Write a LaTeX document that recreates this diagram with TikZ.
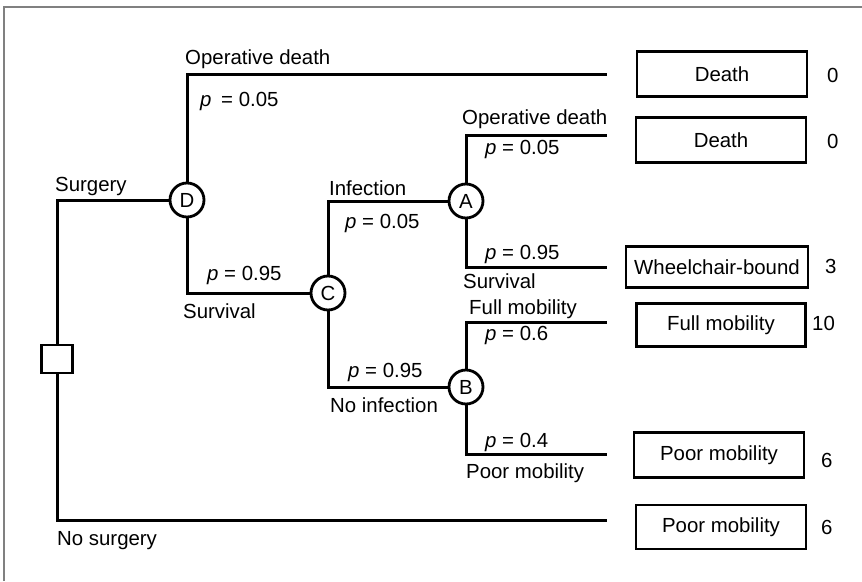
\documentclass[tikz,border=0pt]{standalone}
\usepackage{fontspec}
\setmainfont{Liberation Sans}
\usepackage{tikz}
\usetikzlibrary{positioning}

\tikzset{
	tree/.style={line width=3pt},
	chance/.style={circle, draw, line width=2.8pt, minimum size=34pt, inner sep=0pt},
	decision/.style={rectangle, draw, line width=2.6pt, minimum width=31pt, minimum height=28pt, inner sep=0pt},
	outcome/.style={rectangle, draw, line width=2.6pt, inner sep=0pt},
	lbl/.style={anchor=base west, inner sep=0pt}
}

\begin{document}
\begin{tikzpicture}[x=1pt,y=-1pt,font=\fontsize{20.4}{24}\selectfont]
	\useasboundingbox (0,0) rectangle (862,581);
	\draw [gray, line width=1.2pt] (4,581) -- (4,7) -- (862,7);
	\node [decision] (dec) at (57,359) {};
	\node [chance] (D) at (187,200) {D};
	\node [chance] (C) at (328,293) {C};
	\node [chance] (A) at (466,201) {A};
	\node [chance] (B) at (466,387) {B};
	\def\lineend{607}
	\foreach \n/\y in {eTop/74, eA1/135, eA2/267, eB1/322, eB2/454, eNo/520}
	{
		\coordinate (\n) at (\lineend,\y);
	}
	\draw [tree] (dec.north) |- (D.west);
	\draw [tree] (dec.south) |- (eNo);
	\draw [tree] (D.north) |- (eTop);
	\draw [tree] (D.south) |- (C.west);
	\draw [tree] (C.north) |- (A.west);
	\draw [tree] (C.south) |- (B.west);
	\draw [tree] (A.north) |- (eA1);
	\draw [tree] (A.south) |- (eA2);
	\draw [tree] (B.north) |- (eB1);
	\draw [tree] (B.south) |- (eB2);
	\foreach \n/\x/\y/\txt in
	{
		opD/185/64/{Operative death},
		pD1/200/106/{\textit{p}\hspace{4pt} = 0.05},
		surg/55/191/{Surgery},
		pD2/207/280/{\textit{p} = 0.95},
		survD/183/318/{Survival},
		inf/329/195/{Infection},
		pC1/345/228/{\textit{p} = 0.05},
		pC2/348/377/{\textit{p} = 0.95},
		noinf/330/412/{No infection},
		opA/462/124/{Operative death},
		pA1/485/154/{\textit{p} = 0.05},
		pA2/485/259/{\textit{p} = 0.95},
		survA/463/288/{Survival},
		fullB/469/314/{Full mobility},
		pB1/485/340/{\textit{p} = 0.6},
		pB2/485/447/{\textit{p} = 0.4},
		poorB/466/478/{Poor mobility},
		nosurg/57/545/{No surgery}
	}
	{
		\node [lbl] (\n) at (\x,\y) {\txt};
	}
	\foreach \n/\x/\y/\w/\h/\txt/\vx/\vy/\val in
	{
		1/722/74/170/45/Death/827/75/0,
		2/721/140/170/45/Death/827/141/0,
		3/717/267/182/41/Wheelchair-bound/825/266/3,
		4/721/325/169/43/Full mobility/812/323/10,
		5/719/455/170/45/Poor mobility/821/460/6,
		6/721/527/170/44/Poor mobility/821/527/6
	}
	{
		\node [outcome, minimum width=\w pt, minimum height=\h pt] (out\n) at (\x,\y) {\txt};
		\node [anchor=west, inner sep=0pt] (val\n) at (\vx,\vy) {\val};
	}
\end{tikzpicture}
\end{document}
